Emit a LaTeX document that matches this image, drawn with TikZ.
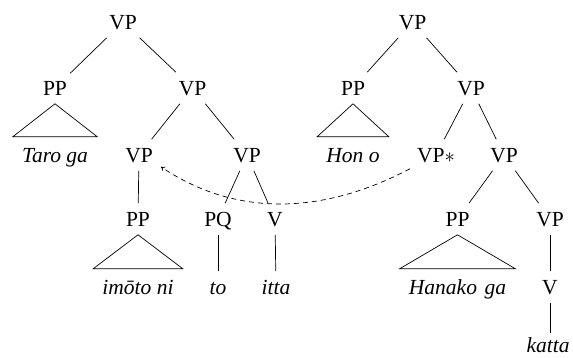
\documentclass[tikz,border=0pt]{standalone}
\usepackage{fontspec}
\setmainfont{Liberation Serif}
\usetikzlibrary{arrows.meta}
\begin{document}
\begin{tikzpicture}[x=1pt,y=-1pt,
  lbl/.style={font=\fontsize{21.5}{26}\selectfont, text height=14.2pt, text depth=0pt, inner xsep=3pt, inner ysep=8.5pt},
  word/.style={lbl, font=\fontsize{21.5}{26}\selectfont\itshape},
  triword/.style={word, inner xsep=9pt, inner ysep=11pt},
  edge/.style={line width=0.7pt},
  mv/.style={line width=0.7pt, dash pattern=on 5pt off 4pt, -{To[length=4pt,width=5pt]}}]
\useasboundingbox (0,0) rectangle (573,358);
% left tree
\node[lbl] (r1) at (123,22) {VP};
\node[lbl] (pp1) at (55,88) {PP};
\node[lbl] (vp1) at (192.5,88) {VP};
\node[triword] (t1) at (55,155) {Taro ga};
\node[lbl] (vp2) at (139,155) {VP};
\node[lbl] (vp3) at (247,155) {VP};
\node[lbl] (pp2) at (138,219) {PP};
\node[lbl] (pq) at (218,219) {PQ};
\node[lbl] (v1) at (275,219) {V};
\node[triword] (t2) at (138,287) {imōto ni};
\node[word] (w1) at (218,287) {to};
\node[word] (w2) at (276,287) {itta};
\draw[edge] (r1) -- (pp1);
\draw[edge] (r1) -- (vp1);
\draw[edge] (pp1.south) -- (t1.north west) -- (t1.north east) -- cycle;
\draw[edge] (vp1) -- (vp2);
\draw[edge] (vp1) -- (vp3);
\draw[edge] (vp2) -- (pp2);
\draw[edge] (vp3) -- (pq);
\draw[edge] (vp3) -- (v1);
\draw[edge] (pp2.south) -- (t2.north west) -- (t2.north east) -- cycle;
\draw[edge] (pq) -- (w1);
\draw[edge] (v1) -- (w2);
% right tree
\node[lbl] (r2) at (412.5,22) {VP};
\node[lbl] (pp3) at (353,88) {PP};
\node[lbl] (vp4) at (471,88) {VP};
\node[triword] (t3) at (353,155) {Hon o};
\node[lbl] (vps) at (436,155) {VP$\ast$};
\node[lbl] (vp5) at (504,155) {VP};
\node[lbl] (pp4) at (457.5,219) {PP};
\node[lbl] (vp6) at (550,219) {VP};
\node[triword] (t4) at (457.5,287) {Hanako\hspace{0.1em} ga};
\node[lbl] (v2) at (550,287) {V};
\node[word, inner ysep=1pt, inner xsep=0pt] (w3) at (548,345) {katta};
\draw[edge] (r2) -- (pp3);
\draw[edge] (r2) -- (vp4);
\draw[edge] (pp3.south) -- (t3.north west) -- (t3.north east) -- cycle;
\draw[edge] (vp4) -- (vps);
\draw[edge] (vp4) -- (vp5);
\draw[edge] (vp5) -- (pp4);
\draw[edge] (vp5) -- (vp6);
\draw[edge] (pp4.south) -- (t4.north west) -- (t4.north east) -- cycle;
\draw[edge] (vp6) -- (v2);
\draw[edge, shorten >=4pt] (v2) -- (v2 |- w3.north);
% movement arrow
\draw[mv] ([xshift=-4pt,yshift=2pt]vps.south west) .. controls (320,216) and (234,216) .. ([xshift=5pt,yshift=4pt]vp2.south east);
\end{tikzpicture}
\end{document}
